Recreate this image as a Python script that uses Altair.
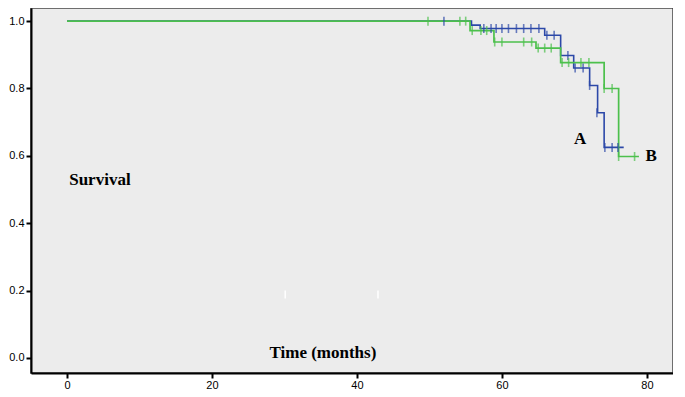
import altair as alt
import pandas as pd

# Kaplan-Meier step curves (time in months, survival proportion)
a_time = [0, 55.8, 57.0, 65.9, 68.1, 69.9, 72.1, 73.2, 74.1, 76.8]
a_surv = [1.0, 0.988, 0.978, 0.958, 0.898, 0.861, 0.809, 0.728, 0.625, 0.625]
a_cens_time = [52.0, 57.5, 58.5, 59.2, 60.0, 60.9, 62.0, 63.0, 64.0, 65.1,
               66.2, 67.2, 69.1, 70.1, 71.2, 72.1, 73.1, 74.2, 75.2, 76.0]
a_cens_surv = [1.0, 0.978, 0.978, 0.978, 0.978, 0.978, 0.978, 0.978, 0.978, 0.978,
               0.958, 0.958, 0.898, 0.861, 0.861, 0.809, 0.728, 0.625, 0.625, 0.625]

b_time = [0, 55.6, 58.9, 64.7, 68.1, 74.1, 76.1, 78.9]
b_surv = [1.0, 0.972, 0.938, 0.920, 0.877, 0.800, 0.598, 0.598]
b_cens_time = [49.8, 54.2, 55.0, 55.9, 57.1, 57.9, 59.0, 60.0, 63.0, 64.1,
               65.0, 65.9, 66.8, 68.3, 69.2, 70.9, 72.0, 74.1, 75.2, 76.1, 78.3]
b_cens_surv = [1.0, 1.0, 1.0, 0.972, 0.972, 0.972, 0.938, 0.938, 0.938, 0.938,
               0.920, 0.920, 0.920, 0.877, 0.877, 0.877, 0.877, 0.800, 0.800, 0.598, 0.598]

# text annotations
labels_text = ["Survival", "Time (months)", "A", "B"]
labels_x = [0.3, 35.3, 70.8, 80.6]
labels_y = [0.528, 0.015, 0.65, 0.6]
labels_align = ["left", "center", "center", "center"]

# small white marks visible in the plot area
mark_x = [30.1, 42.9]
mark_y1 = [0.176]
mark_y2 = [0.2]

BLUE = "#2c48a8"
GREEN = "#4cc04c"

lines = pd.concat([
    pd.DataFrame({"t": a_time, "s": a_surv, "g": "A"}),
    pd.DataFrame({"t": b_time, "s": b_surv, "g": "B"}),
])
cens = pd.concat([
    pd.DataFrame({"t": a_cens_time, "s": a_cens_surv, "g": "A"}),
    pd.DataFrame({"t": b_cens_time, "s": b_cens_surv, "g": "B"}),
])
txt = pd.DataFrame({"label": labels_text, "x": labels_x, "y": labels_y, "al": labels_align})
wm = pd.DataFrame({"x": mark_x, "y1": mark_y1 * len(mark_x), "y2": mark_y2 * len(mark_x)})

xs = alt.Scale(domain=[-4.97, 83.6], nice=False, zero=False)
ys = alt.Scale(domain=[-0.045, 1.039], nice=False, zero=False)
col = alt.Scale(domain=["A", "B"], range=[BLUE, GREEN])

xax = alt.Axis(values=[0, 20, 40, 60, 80], title=None, grid=False, tickSize=5,
               labelFontSize=11, labelFont="Liberation Sans", labelColor="#000",
               tickColor="#000", domainColor="#000", domainWidth=2, tickWidth=2, labelPadding=1)
yax = alt.Axis(values=[0, 0.2, 0.4, 0.6, 0.8, 1.0], format=".1f", title=None, grid=False,
               tickSize=5, labelFontSize=11, labelFont="Liberation Sans", labelColor="#000",
               tickColor="#000", domainColor="#000", domainWidth=2, tickWidth=2, labelPadding=2)

blue_line = alt.Chart(lines[lines["g"] == "A"]).mark_line(
    interpolate="step-after", strokeWidth=1.6, color=BLUE
).encode(
    x=alt.X("t:Q", scale=xs, axis=xax),
    y=alt.Y("s:Q", scale=ys, axis=yax),
    order=alt.Order("t:Q"),
)
green_line = alt.Chart(lines[lines["g"] == "B"]).mark_line(
    interpolate="step-after", strokeWidth=1.7, color=GREEN
).encode(
    x=alt.X("t:Q", scale=xs),
    y=alt.Y("s:Q", scale=ys),
    order=alt.Order("t:Q"),
)

ticks = alt.Chart(cens).mark_tick(orient="vertical", size=9, thickness=1.6).encode(
    x=alt.X("t:Q", scale=xs),
    y=alt.Y("s:Q", scale=ys),
    color=alt.Color("g:N", scale=col, legend=None),
)

text_left = alt.Chart(txt[txt["al"] == "left"]).mark_text(
    font="Liberation Serif", fontWeight="bold", fontSize=17, color="#000", align="left"
).encode(x=alt.X("x:Q", scale=xs), y=alt.Y("y:Q", scale=ys), text="label:N")
text_center = alt.Chart(txt[txt["al"] == "center"]).mark_text(
    font="Liberation Serif", fontWeight="bold", fontSize=17, color="#000", align="center"
).encode(x=alt.X("x:Q", scale=xs), y=alt.Y("y:Q", scale=ys), text="label:N")

white_marks = alt.Chart(wm).mark_rule(color="white", strokeWidth=1.5).encode(
    x=alt.X("x:Q", scale=xs), y=alt.Y("y1:Q", scale=ys), y2="y2:Q"
)

chart = alt.layer(white_marks, blue_line, green_line, ticks, text_left, text_center).properties(
    width=642, height=365, padding=0, background="white"
).configure_view(
    fill="#ececec", stroke="#444", strokeWidth=1.5
)

chart.save("out.html", embed_options={"renderer": "svg", "actions": False})
